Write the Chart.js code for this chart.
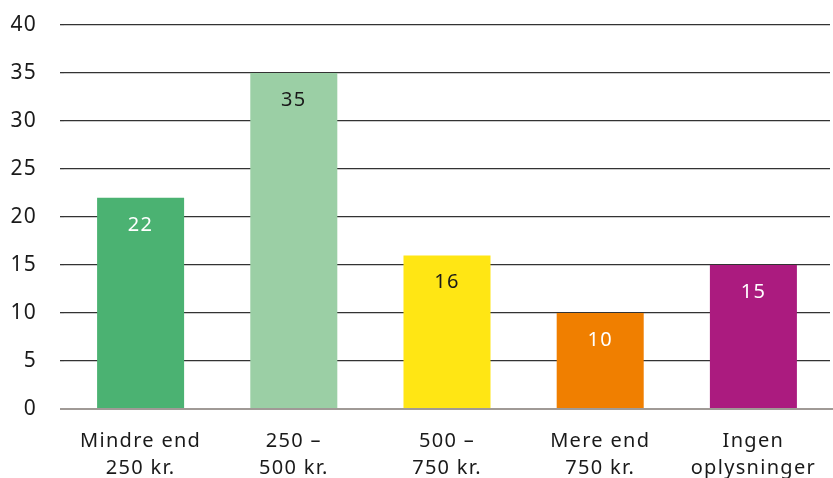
<!DOCTYPE html>
<html>
<head>
<meta charset="utf-8">
<script src="https://cdn.jsdelivr.net/npm/chart.js@4"></script>
<style>
  html, body { margin: 0; padding: 0; background: #ffffff; }
  #wrap { width: 833px; height: 478px; position: relative; }
</style>
</head>
<body>
<div id="wrap"><canvas id="c"></canvas></div>
<script>
const categories = [
  ['Mindre end', '250 kr.'],
  ['250 –', '500 kr.'],
  ['500 –', '750 kr.'],
  ['Mere end', '750 kr.'],
  ['Ingen', 'oplysninger']
];
const values = [22, 35, 16, 10, 15];
const barColors = ['#4bb272', '#9bcfa5', '#ffe614', '#f07f00', '#ab1b7f'];
const labelColors = ['#ffffff', '#1a1a1a', '#1a1a1a', '#ffffff', '#ffffff'];
const yMin = 0, yMax = 40, yStep = 5;

const FONT = '"Noto Sans", "DejaVu Sans", sans-serif';
const LS = '1.3px';

const spacing = {
  id: 'spacing',
  beforeInit(chart) { chart.ctx.letterSpacing = LS; },
  beforeUpdate(chart) { chart.ctx.letterSpacing = LS; },
  beforeDraw(chart) { chart.ctx.letterSpacing = LS; }
};

const zeroLine = {
  id: 'zeroLine',
  afterDatasetsDraw(chart) {
    const ctx = chart.ctx;
    const y = chart.scales.y.getPixelForValue(0);
    ctx.save();
    ctx.strokeStyle = '#a09a96';
    ctx.lineWidth = 2;
    ctx.beginPath();
    ctx.moveTo(chart.chartArea.left - 4, y);
    ctx.lineTo(chart.width, y);
    ctx.stroke();
    ctx.restore();
  }
};

const valueLabels = {
  id: 'valueLabels',
  afterDatasetsDraw(chart) {
    const ctx = chart.ctx;
    const meta = chart.getDatasetMeta(0);
    ctx.save();
    ctx.letterSpacing = LS;
    ctx.font = '20px ' + FONT;
    ctx.textAlign = 'center';
    ctx.textBaseline = 'middle';
    meta.data.forEach((bar, i) => {
      ctx.fillStyle = labelColors[i];
      ctx.fillText(String(values[i]), bar.x, bar.y + 27);
    });
    ctx.restore();
  }
};

new Chart(document.getElementById('c'), {
  type: 'bar',
  data: {
    labels: categories,
    datasets: [{
      data: values,
      backgroundColor: barColors,
      borderWidth: 0,
      barPercentage: 0.568,
      categoryPercentage: 1.0
    }]
  },
  options: {
    responsive: true,
    maintainAspectRatio: false,
    animation: false,
    devicePixelRatio: 1,
    layout: { padding: { top: 25, right: 3, left: 0, bottom: 0 } },
    plugins: {
      legend: { display: false },
      tooltip: { enabled: false }
    },
    scales: {
      x: {
        grid: { display: false, drawTicks: false },
        border: { display: false },
        ticks: {
          color: '#1a1a1a',
          font: { family: FONT, size: 20, lineHeight: 1.38 },
          padding: 18,
          maxRotation: 0,
          autoSkip: false
        },
        afterFit(scale) { scale.height = 69; scale.paddingLeft = 0; scale.paddingRight = 0; }
      },
      y: {
        min: yMin,
        max: yMax,
        border: { display: false },
        grid: {
          color: (c) => c.tick && c.tick.value === 0 ? 'rgba(0,0,0,0)' : '#333333',
          lineWidth: 1.3,
          drawTicks: true,
          tickLength: 4
        },
        ticks: {
          stepSize: yStep,
          color: '#1a1a1a',
          font: { family: FONT, size: 21 },
          padding: 23
        },
        afterFit(scale) { scale.width = 64; scale.paddingTop = 0; scale.paddingBottom = 0; }
      }
    }
  },
  plugins: [spacing, zeroLine, valueLabels]
});
</script>
</body>
</html>
